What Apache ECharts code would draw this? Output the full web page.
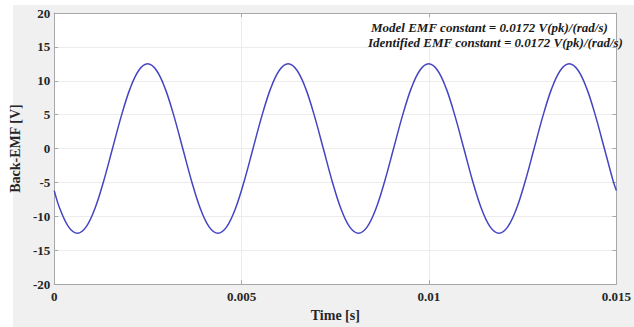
<!DOCTYPE html>
<html>
<head>
<meta charset="utf-8">
<script src="https://cdn.jsdelivr.net/npm/echarts@6/dist/echarts.min.js"></script>
<style>
  html, body { margin: 0; padding: 0; background: #fff; }
  #chart { width: 634px; height: 327px; }
</style>
</head>
<body>
<div id="chart"></div>
<script>
// time samples [s] (minima, zero crossings, maxima and points between)
const timeS = [
  0, 0.000148, 0.000383,
  0.000617, 0.000851, 0.001086, 0.001320, 0.001555, 0.001789, 0.002023, 0.002258,
  0.002492, 0.002726, 0.002961, 0.003195, 0.003430, 0.003664, 0.003898, 0.004133,
  0.004367, 0.004601, 0.004836, 0.005070, 0.005305, 0.005539, 0.005773, 0.006008,
  0.006242, 0.006476, 0.006711, 0.006945, 0.007180, 0.007414, 0.007648, 0.007883,
  0.008117, 0.008351, 0.008586, 0.008820, 0.009055, 0.009289, 0.009523, 0.009758,
  0.009992, 0.010226, 0.010461, 0.010695, 0.010930, 0.011164, 0.011398, 0.011633,
  0.011867, 0.012101, 0.012336, 0.012570, 0.012805, 0.013039, 0.013273, 0.013508,
  0.013742, 0.013976, 0.014211, 0.014445, 0.014680, 0.014914, 0.015
];
// back-EMF [V]
const emfV = [
  -6.2, -8.84, -11.55,
  -12.5, -11.55, -8.84, -4.78, 0, 4.78, 8.84, 11.55,
  12.5, 11.55, 8.84, 4.78, 0, -4.78, -8.84, -11.55,
  -12.5, -11.55, -8.84, -4.78, 0, 4.78, 8.84, 11.55,
  12.5, 11.55, 8.84, 4.78, 0, -4.78, -8.84, -11.55,
  -12.5, -11.55, -8.84, -4.78, 0, 4.78, 8.84, 11.55,
  12.5, 11.55, 8.84, 4.78, 0, -4.78, -8.84, -11.55,
  -12.5, -11.55, -8.84, -4.78, 0, 4.78, 8.84, 11.55,
  12.5, 11.55, 8.84, 4.78, 0, -4.78, -6.2
];
const xTicks = [0, 0.005, 0.01, 0.015];
const yTicks = [-20, -15, -10, -5, 0, 5, 10, 15, 20];
const notes = [
  'Model EMF constant = 0.0172 V(pk)/(rad/s)',
  'Identified EMF constant = 0.0172 V(pk)/(rad/s)'
];

const serif = '"Liberation Serif", "DejaVu Serif", serif';
const tickFont = { fontFamily: serif, fontWeight: 'bold', fontSize: 13, color: '#262626' };
const gridLine = { show: true, lineStyle: { color: '#ececec', width: 1 } };
const boxLine = { show: true, onZero: false, lineStyle: { color: '#a8a8a8', width: 1 } };
const inTick = { show: true, inside: true, length: 4, lineStyle: { color: '#a8a8a8' } };

const chart = echarts.init(document.getElementById('chart'), null, { renderer: 'svg' });

chart.setOption({
  backgroundColor: '#f0f0f0',
  animation: false,
  grid: { left: 50, right: 17, top: 13, bottom: 38, show: true, backgroundColor: '#fff', borderWidth: 0 },
  graphic: [
    { type: 'rect', left: 0, top: 0, shape: { width: 13, height: 327 }, style: { fill: '#fff' }, silent: true },
    { type: 'rect', left: 0, top: 0, shape: { width: 634, height: 5 }, style: { fill: '#fff' }, silent: true },
    {
      type: 'text', left: 371, top: 21, z: 10,
      style: { text: notes[0], font: 'italic bold 13px ' + serif, fill: '#1a1a1a' }
    },
    {
      type: 'text', left: 368, top: 36, z: 10,
      style: { text: notes[1], font: 'italic bold 13px ' + serif, fill: '#1a1a1a' }
    }
  ],
  xAxis: [
    {
      type: 'value', min: xTicks[0], max: xTicks[xTicks.length - 1], interval: 0.005,
      name: 'Time [s]', nameLocation: 'middle', nameGap: 21,
      nameTextStyle: { fontFamily: serif, fontWeight: 'bold', fontSize: 14, color: '#262626' },
      axisLine: boxLine,
      axisTick: inTick,
      axisLabel: { ...tickFont, margin: 6, formatter: v => String(v) },
      splitLine: gridLine
    },
    {
      type: 'value', position: 'top', min: xTicks[0], max: xTicks[xTicks.length - 1], interval: 0.005,
      axisLine: boxLine,
      axisTick: inTick,
      axisLabel: { show: false }, splitLine: { show: false }
    }
  ],
  yAxis: [
    {
      type: 'value', min: yTicks[0], max: yTicks[yTicks.length - 1], interval: 5,
      name: 'Back-EMF [V]', nameLocation: 'middle', nameGap: 21,
      nameTextStyle: { fontFamily: serif, fontWeight: 'bold', fontSize: 14, color: '#262626' },
      axisLine: boxLine,
      axisTick: inTick,
      axisLabel: { ...tickFont, margin: 4 },
      splitLine: gridLine
    },
    {
      type: 'value', position: 'right', min: yTicks[0], max: yTicks[yTicks.length - 1], interval: 5,
      axisLine: boxLine,
      axisTick: inTick,
      axisLabel: { show: false }, splitLine: { show: false }
    }
  ],
  series: [
    {
      type: 'line',
      data: timeS.map((t, i) => [t, emfV[i]]),
      smooth: 0.35,
      symbol: 'none',
      lineStyle: { color: '#4545c4', width: 1.5 },
      z: 3
    }
  ]
});
</script>
</body>
</html>
